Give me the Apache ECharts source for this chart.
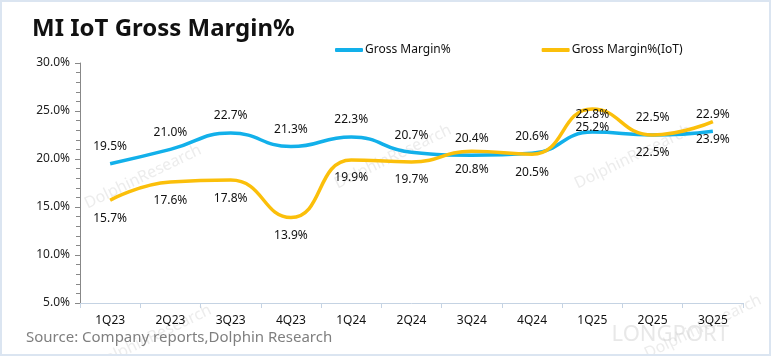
<!DOCTYPE html>
<html><head><meta charset="utf-8">
<script src="https://cdn.jsdelivr.net/npm/echarts@6/dist/echarts.min.js"></script>
<style>html,body{margin:0;padding:0;background:#fff}#c{width:771px;height:356px;box-sizing:border-box;border:2px solid #dbe5f1}</style>
</head><body><div id="c"></div>
<script>
const categories = ['1Q23','2Q23','3Q23','4Q23','1Q24','2Q24','3Q24','4Q24','1Q25','2Q25','3Q25'];
const grossMargin = [19.5,21.0,22.7,21.3,22.3,20.7,20.4,20.6,22.8,22.5,22.9];
const grossMarginIoT = [15.7,17.6,17.8,13.9,19.9,19.7,20.8,20.5,25.2,22.5,23.9];
const yTicks = [5,10,15,20,25,30];

const chart = echarts.init(document.getElementById('c'), null, {renderer:'canvas'});
const font = '"Noto Sans", "Open Sans", sans-serif';
const wm = (x,y)=>({type:'text',left:x,top:y,rotation:Math.PI/7,silent:true,z:-1,
  style:{text:'DolphinResearch',fill:'rgba(200,200,200,0.35)',font:'16px '+font}});
chart.setOption({
  animation:false,
  textStyle:{fontFamily:font},
  title:{text:'MI IoT Gross Margin%',left:25,top:10,textStyle:{fontSize:24,fontWeight:'bold',color:'#111',fontFamily:font}},
  legend:{left:328,top:37,itemGap:91,itemWidth:28,itemHeight:4,icon:'roundRect',
    textStyle:{fontSize:12,color:'#111',padding:[0,0,0,-3]}},
  graphic:[wm(80,140),wm(330,120),wm(570,120),wm(90,300),wm(640,290),
    {type:'text',right:40,top:322,silent:true,style:{text:'LONGPORT',fill:'rgba(210,210,210,0.5)',font:'22px '+font}},
    {type:'text',left:24,top:328,style:{text:'Source: Company reports,Dolphin Research',fill:'#7f7f7f',font:'15px '+font}}],
  grid:{left:78,right:26,top:61,bottom:51},
  xAxis:{type:'category',data:categories,boundaryGap:true,
    axisLine:{lineStyle:{color:'#c5d3e3',width:1}},
    axisTick:{show:true,length:5,lineStyle:{color:'#c5d3e3'}},
    axisLabel:{color:'#111',fontSize:12,margin:12}},
  yAxis:{type:'value',min:5,max:30,interval:5,
    axisLine:{show:true,lineStyle:{color:'#888'}},
    axisTick:{show:true,length:5,inside:false,lineStyle:{color:'#888'}},
    minorTick:{show:true,splitNumber:5,length:4,lineStyle:{color:'#888'}},
    splitLine:{show:false},
    axisLabel:{color:'#222',fontSize:12,formatter:v=>v.toFixed(1)+'%',margin:10}},
  series:[
    {name:'Gross Margin%',type:'line',data:grossMargin,smooth:0.5,showSymbol:true,symbol:'circle',symbolSize:0.1,
     lineStyle:{color:'#12b0ea',width:3.5},itemStyle:{color:'#12b0ea'},
     label:{show:true,position:'top',distance:11,color:'#111',fontSize:12,formatter:p=>p.value.toFixed(1)+'%'}},
    {name:'Gross Margin%(IoT)',type:'line',data:grossMarginIoT,smooth:0.5,showSymbol:true,symbol:'circle',symbolSize:0.1,
     lineStyle:{color:'#fbbf0a',width:3.5},itemStyle:{color:'#fbbf0a'},
     label:{show:true,position:'bottom',distance:12,color:'#111',fontSize:12,formatter:p=>p.value.toFixed(1)+'%'}}
  ]
});
</script></body></html>
